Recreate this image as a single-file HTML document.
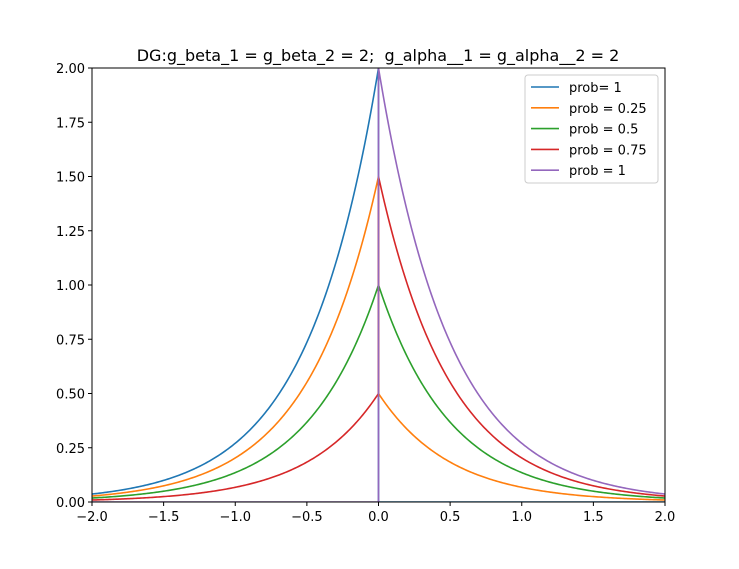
<!DOCTYPE html>
<html><head><meta charset="utf-8"><style>
body{margin:0;background:#fff;}
svg text{font-family:"DejaVu Sans","Liberation Sans",sans-serif;fill:#000;}
</style></head><body>
<svg id="chart" width="739" height="564" viewBox="0 0 739 564">
<rect width="739" height="564" fill="#fff"/>
<text x="378" y="61" font-size="16" text-anchor="middle" style="white-space:pre">DG:g_beta_1 = g_beta_2 = 2;&#160; g_alpha__1 = g_alpha__2 = 2</text>
<g id="plot"></g>
<g id="axes"></g>
<g id="legend"></g>
</svg>
<script>
const seriesLabels=["prob= 1","prob = 0.25","prob = 0.5","prob = 0.75","prob = 1"];
const leftPeaks=[2.0,1.5,1.0,0.5,0.0];
const rightPeaks=[0.0,0.5,1.0,1.5,2.0];
const decayRates=[2,2,2,2,2];
const colors=["#1f77b4","#ff7f0e","#2ca02c","#d62728","#9467bd"];
const xTicks=[-2.0,-1.5,-1.0,-0.5,0.0,0.5,1.0,1.5,2.0];
const xTickLabels=["−2.0","−1.5","−1.0","−0.5","0.0","0.5","1.0","1.5","2.0"];
const yTicks=[0,0.25,0.5,0.75,1.0,1.25,1.5,1.75,2.0];
const yTickLabels=["0.00","0.25","0.50","0.75","1.00","1.25","1.50","1.75","2.00"];

const L=92,R=665,T=68,B=502;
const xs=v=>L+(v+2)/4*(R-L);
const ys=v=>B-v/2*(B-T);
const NS="http://www.w3.org/2000/svg";
function mk(tag,attrs,parent){const e=document.createElementNS(NS,tag);for(const k in attrs)e.setAttribute(k,attrs[k]);parent.appendChild(e);return e;}
const plot=document.getElementById('plot'),axes=document.getElementById('axes'),leg=document.getElementById('legend');
const cp=mk('clipPath',{id:'clip'},plot);
mk('rect',{x:L,y:T,width:R-L,height:B-T},cp);
seriesLabels.forEach((lab,i)=>{
  const pts=[];const N=200;
  for(let k=0;k<=N;k++){const x=-2+2*k/N;pts.push([x,leftPeaks[i]*Math.exp(decayRates[i]*x)]);}
  for(let k=0;k<=N;k++){const x=2*k/N;pts.push([x,rightPeaks[i]*Math.exp(-decayRates[i]*x)]);}
  const p=mk('polyline',{points:pts.map(q=>xs(q[0]).toFixed(2)+','+ys(q[1]).toFixed(2)).join(' '),fill:'none',stroke:colors[i],'stroke-width':1.6,'clip-path':'url(#clip)'},plot);
  
  
});
mk('rect',{x:L,y:T,width:R-L,height:B-T,fill:'none',stroke:'#000','stroke-width':1},axes);
xTicks.forEach((v,i)=>{
  mk('line',{x1:xs(v),x2:xs(v),y1:B,y2:B+4,stroke:'#000'},axes);
  const t=mk('text',{x:xs(v),y:B+19,'font-size':13,'text-anchor':'middle'},axes);t.textContent=xTickLabels[i];
  
  
});
yTicks.forEach((v,i)=>{
  mk('line',{x1:L-4,x2:L,y1:ys(v),y2:ys(v),stroke:'#000'},axes);
  const t=mk('text',{x:L-7,y:ys(v)+5,'font-size':13,'text-anchor':'end'},axes);t.textContent=yTickLabels[i];
  
  
});
const box=mk('rect',{x:525,y:75,width:133,height:108,rx:3,fill:'#fff','fill-opacity':0.8,stroke:'#ccc'},leg);


seriesLabels.forEach((lab,i)=>{
  const y=87+i*20.8;
  mk('line',{x1:531,x2:559,y1:y,y2:y,stroke:colors[i],'stroke-width':1.6},leg);
  const t=mk('text',{x:569,y:y+5,'font-size':13},leg);t.textContent=lab;
  
  
});
</script>
</body></html>
